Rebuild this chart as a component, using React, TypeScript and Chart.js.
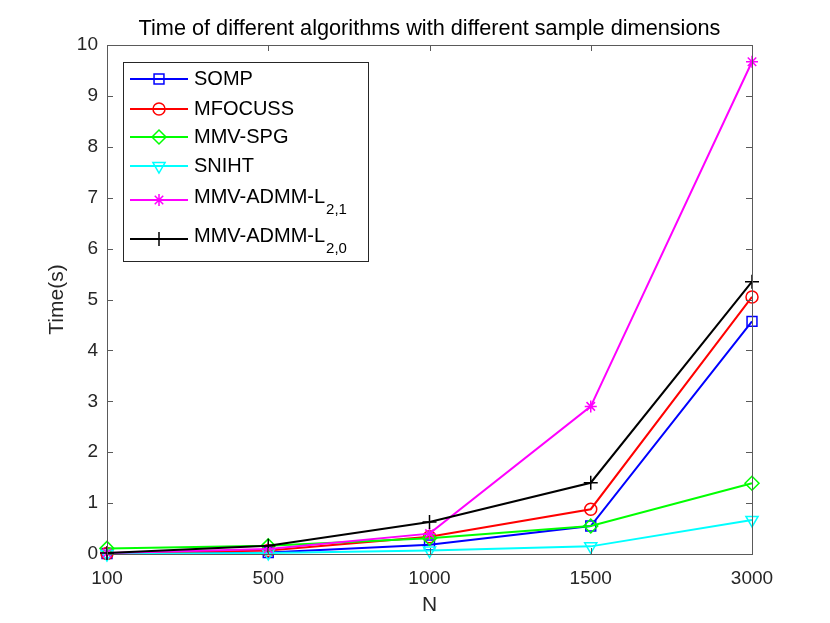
import React, { useEffect, useRef } from "react";
import { Chart, registerables } from "chart.js";
import { drawPoint } from "chart.js/helpers";

Chart.register(...registerables);

// sample dimension N (evenly spaced categories)
const sampleSizes = ["100", "500", "1000", "1500", "3000"];

// running time in seconds
const somp = [0.01, 0.03, 0.18, 0.55, 4.57];
const mfocuss = [0.01, 0.07, 0.34, 0.88, 5.05];
const mmvSpg = [0.11, 0.16, 0.31, 0.55, 1.39];
const sniht = [0.0, 0.02, 0.07, 0.15, 0.67];
const admmL21 = [0.02, 0.1, 0.4, 2.9, 9.67];
const admmL20 = [0.02, 0.16, 0.63, 1.4, 5.35];

const yTickValues = [0, 1, 2, 3, 4, 5, 6, 7, 8, 9, 10];

const FONT = '"Liberation Sans", Arial, Helvetica, sans-serif';
const TEXT = "#262626";
const AXIS = "#5a5a5a";

type Series = {
  label: string;
  sub?: string;
  data: number[];
  color: string;
  style: string;
  radius: number;
  rotation?: number;
};

const series: Series[] = [
  { label: "SOMP", data: somp, color: "#0000ff", style: "rect", radius: 7 },
  { label: "MFOCUSS", data: mfocuss, color: "#ff0000", style: "circle", radius: 6 },
  { label: "MMV-SPG", data: mmvSpg, color: "#00ff00", style: "rectRot", radius: 7 },
  { label: "SNIHT", data: sniht, color: "#00ffff", style: "triangle", radius: 7, rotation: 180 },
  { label: "MMV-ADMM-L", sub: "2,1", data: admmL21, color: "#ff00ff", style: "star", radius: 6 },
  { label: "MMV-ADMM-L", sub: "2,0", data: admmL20, color: "#000000", style: "cross", radius: 7 },
];

// matlab-ish frame: box, inward ticks, title, axis labels and the legend
const framePlugin = {
  id: "matlabFrame",
  afterDraw(chart: any) {
    const { ctx, chartArea: a, scales } = chart;
    const tl = 6;
    ctx.save();
    ctx.strokeStyle = AXIS;
    ctx.lineWidth = 1;
    ctx.strokeRect(a.left + 0.5, a.top + 0.5, a.right - a.left, a.bottom - a.top);

    ctx.beginPath();
    scales.x.ticks.forEach((_: any, i: number) => {
      const px = Math.round(scales.x.getPixelForTick(i)) + 0.5;
      ctx.moveTo(px, a.bottom);
      ctx.lineTo(px, a.bottom - tl);
      ctx.moveTo(px, a.top);
      ctx.lineTo(px, a.top + tl);
    });
    scales.y.ticks.forEach((_: any, i: number) => {
      const py = Math.round(scales.y.getPixelForTick(i)) + 0.5;
      ctx.moveTo(a.left, py);
      ctx.lineTo(a.left + tl, py);
      ctx.moveTo(a.right, py);
      ctx.lineTo(a.right - tl, py);
    });
    ctx.stroke();

    // title + axis titles
    ctx.fillStyle = "#000";
    ctx.textAlign = "center";
    ctx.textBaseline = "middle";
    ctx.font = `21.7px ${FONT}`;
    ctx.fillText(
      "Time of different algorithms with different sample dimensions",
      (a.left + a.right) / 2,
      29
    );
    ctx.font = `21px ${FONT}`;
    ctx.fillStyle = TEXT;
    ctx.fillText("N", (a.left + a.right) / 2, 605);
    ctx.save();
    ctx.translate(57, (a.top + a.bottom) / 2);
    ctx.rotate(-Math.PI / 2);
    ctx.fillText("Time(s)", 0, 0);
    ctx.restore();

    // legend
    const box = { x: 123, y: 62, w: 245, h: 199 };
    ctx.fillStyle = "#fff";
    ctx.fillRect(box.x, box.y, box.w, box.h);
    ctx.strokeStyle = TEXT;
    ctx.strokeRect(box.x + 0.5, box.y + 0.5, box.w, box.h);
    const rows = [79, 109, 137, 166, 200, 239];
    series.forEach((s, i) => {
      const y = rows[i];
      ctx.strokeStyle = s.color;
      ctx.lineWidth = 2;
      ctx.beginPath();
      ctx.moveTo(130, y);
      ctx.lineTo(188, y);
      ctx.stroke();
      ctx.fillStyle = "rgba(0,0,0,0)";
      ctx.lineWidth = 1.5;
      drawPoint(ctx, { pointStyle: s.style, rotation: s.rotation || 0, radius: s.radius, borderWidth: 1.5 } as any, 159, y);
      ctx.fillStyle = "#000";
      ctx.textAlign = "left";
      ctx.textBaseline = "middle";
      ctx.font = `20px ${FONT}`;
      if (s.sub) {
        ctx.fillText(s.label, 194, y - 3);
        const w = ctx.measureText(s.label).width;
        ctx.font = `15px ${FONT}`;
        ctx.fillText(s.sub, 194 + w + 1, y + 10);
      } else {
        ctx.fillText(s.label, 194, y);
      }
    });
    ctx.restore();
  },
};

const App: React.FC = () => {
  const canvasRef = useRef<HTMLCanvasElement>(null);

  useEffect(() => {
    if (!canvasRef.current) return;
    const chart = new Chart(canvasRef.current, {
      type: "line",
      data: {
        labels: sampleSizes,
        datasets: series.map((s, i) => ({
          label: s.sub ? s.label + s.sub : s.label,
          data: s.data,
          borderColor: s.color,
          backgroundColor: "rgba(0,0,0,0)",
          pointBackgroundColor: "rgba(0,0,0,0)",
          pointBorderColor: s.color,
          pointStyle: s.style as any,
          pointRotation: s.rotation || 0,
          pointRadius: s.radius,
          pointBorderWidth: 1.5,
          borderWidth: 2,
          tension: 0,
          fill: false,
          clip: false as any,
          order: series.length - i,
        })),
      },
      options: {
        responsive: false,
        animation: false,
        layout: { padding: { top: 45, left: 0, right: 78, bottom: 0 } },
        scales: {
          x: {
            type: "category",
            grid: { display: false, drawTicks: false },
            border: { display: false },
            ticks: {
              color: TEXT,
              font: { family: FONT, size: 19 },
              padding: 13,
              maxRotation: 0,
              autoSkip: false,
            },
            afterFit: (s: any) => {
              s.height = 69;
            },
          },
          y: {
            min: yTickValues[0],
            max: yTickValues[yTickValues.length - 1],
            grid: { display: false, drawTicks: false },
            border: { display: false },
            ticks: {
              stepSize: 1,
              color: TEXT,
              font: { family: FONT, size: 19 },
              padding: 9,
            },
            afterFit: (s: any) => {
              s.width = 107;
            },
          },
        },
        plugins: {
          legend: { display: false },
          title: { display: false },
          tooltip: { enabled: false },
        },
      },
      plugins: [framePlugin],
    });
    return () => chart.destroy();
  }, []);

  return (
    <div style={{ position: "absolute", left: 0, top: 0, width: 830, height: 623 }}>
      <canvas ref={canvasRef} width={830} height={623} />
    </div>
  );
};

export default App;
